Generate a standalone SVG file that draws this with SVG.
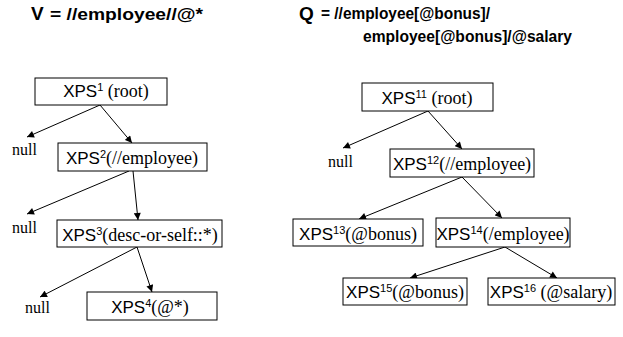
<svg xmlns="http://www.w3.org/2000/svg" width="623" height="337" viewBox="0 0 623 337">
<style>
.box{fill:#fff;stroke:#000;stroke-width:1}
.t{font-family:"Liberation Sans",Arial,sans-serif;font-size:17px;fill:#000;text-anchor:middle}
.s{font-family:"Liberation Serif","Times New Roman",serif;font-size:18px}
.sup{font-size:11px}
.null{font-family:"Liberation Serif","Times New Roman",serif;font-size:16px;fill:#000}
.title{font-family:"Liberation Sans",Arial,sans-serif;font-weight:bold;fill:#000}
.edge{stroke:#000;stroke-width:1;fill:none;marker-end:url(#ah)}
</style>
<defs>
<marker id="ah" viewBox="0 0 10 10" refX="10" refY="5" markerWidth="8" markerHeight="7" markerUnits="userSpaceOnUse" orient="auto">
<path d="M0,0 L10,5 L0,10 z" fill="#000"/>
</marker>
</defs>
<rect width="623" height="337" fill="#fff"/>
<g id="titles">
<text class="title" x="31" y="20" font-size="19">V</text>
<text class="title" x="50" y="20" font-size="16" textLength="153" lengthAdjust="spacingAndGlyphs">= //employee//@*</text>
<text class="title" x="299" y="20" font-size="19">Q</text>
<text class="title" x="321" y="19" font-size="16" textLength="169" lengthAdjust="spacingAndGlyphs">= //employee[@bonus]/</text>
<text class="title" x="363" y="42" font-size="16" textLength="209" lengthAdjust="spacingAndGlyphs">employee[@bonus]/@salary</text>
</g>
<g id="connectors">
<line class="edge" x1="100" y1="105" x2="27" y2="137"/>
<line class="edge" x1="100" y1="105" x2="132" y2="143"/>
<line class="edge" x1="129" y1="171" x2="27" y2="214"/>
<line class="edge" x1="133" y1="171" x2="138" y2="220"/>
<line class="edge" x1="137" y1="247" x2="40" y2="297"/>
<line class="edge" x1="137" y1="247" x2="152" y2="292"/>
<line class="edge" x1="428" y1="111" x2="343" y2="148"/>
<line class="edge" x1="428" y1="111" x2="462" y2="149"/>
<line class="edge" x1="462" y1="177" x2="359" y2="219"/>
<line class="edge" x1="462" y1="177" x2="502" y2="218"/>
<line class="edge" x1="505" y1="247" x2="410" y2="278"/>
<line class="edge" x1="505" y1="247" x2="557" y2="278"/>
</g>
<g id="null1"><text class="null" x="12" y="155">null</text></g>
<g id="null2"><text class="null" x="12" y="233">null</text></g>
<g id="null3"><text class="null" x="25" y="313">null</text></g>
<g id="null4"><text class="null" x="328" y="167">null</text></g>
<g id="xps1">
<rect class="box" x="35" y="78" width="132" height="27"/>
<text class="t" x="106" y="97">XPS<tspan class="sup" dy="-6">1</tspan><tspan class="s" dy="6"> (root)</tspan></text>
</g>
<g id="xps2">
<rect class="box" x="58" y="143" width="149" height="28"/>
<text class="t" x="132" y="164">XPS<tspan class="sup" dy="-6">2</tspan><tspan class="s" dy="6">(//employee)</tspan></text>
</g>
<g id="xps3">
<rect class="box" x="57" y="220" width="165" height="27"/>
<text class="t" x="140" y="241">XPS<tspan class="sup" dy="-6">3</tspan><tspan class="s" dy="6">(desc-or-self::*)</tspan></text>
</g>
<g id="xps4">
<rect class="box" x="87" y="292" width="130" height="28"/>
<text class="t" x="150" y="313">XPS<tspan class="sup" dy="-6">4</tspan><tspan class="s" dy="6">(@*)</tspan></text>
</g>
<g id="xps11">
<rect class="box" x="362" y="83" width="131" height="28"/>
<text class="t" x="427" y="104">XPS<tspan class="sup" dy="-6">11</tspan><tspan class="s" dy="6"> (root)</tspan></text>
</g>
<g id="xps12">
<rect class="box" x="390" y="149" width="144" height="28"/>
<text class="t" x="462" y="170">XPS<tspan class="sup" dy="-6">12</tspan><tspan class="s" dy="6">(//employee)</tspan></text>
</g>
<g id="xps13">
<rect class="box" x="293" y="219" width="130" height="27"/>
<text class="t" x="358" y="240">XPS<tspan class="sup" dy="-6">13</tspan><tspan class="s" dy="6">(@bonus)</tspan></text>
</g>
<g id="xps14">
<rect class="box" x="436" y="218" width="134" height="29"/>
<text class="t" x="503" y="240">XPS<tspan class="sup" dy="-6">14</tspan><tspan class="s" dy="6">(/employee)</tspan></text>
</g>
<g id="xps15">
<rect class="box" x="343" y="278" width="124" height="27"/>
<text class="t" x="405" y="298">XPS<tspan class="sup" dy="-6">15</tspan><tspan class="s" dy="6">(@bonus)</tspan></text>
</g>
<g id="xps16">
<rect class="box" x="488" y="278" width="127" height="27"/>
<text class="t" x="551" y="298">XPS<tspan class="sup" dy="-6">16</tspan><tspan class="s" dy="6"> (@salary)</tspan></text>
</g>
</svg>
